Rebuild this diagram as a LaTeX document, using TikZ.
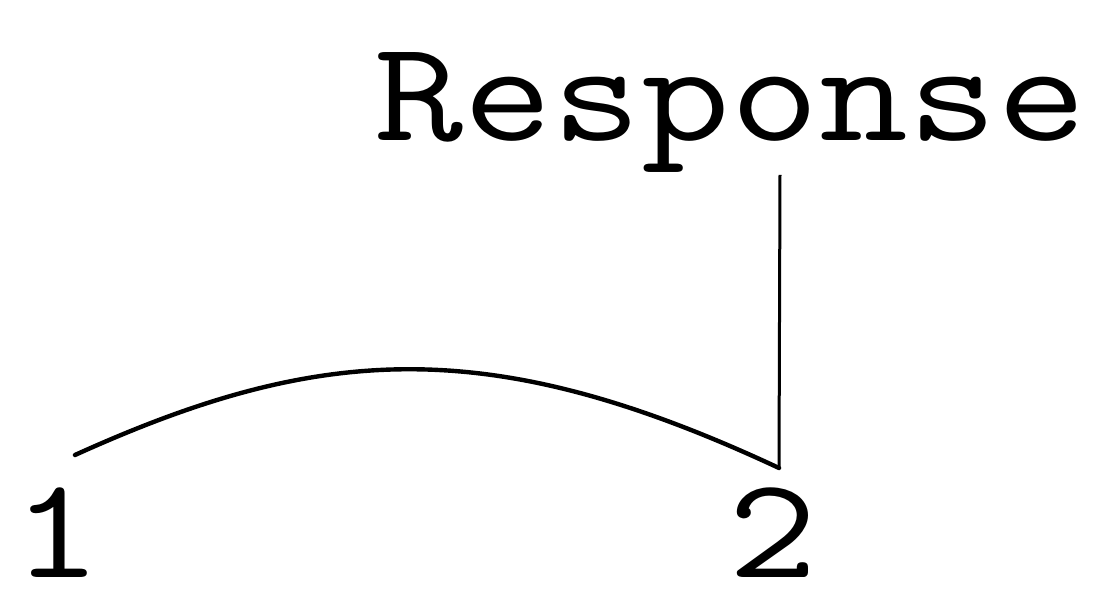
\documentclass[tikz,border=0pt]{standalone}
\usepackage{fontspec}
\newcommand{\wide}[1]{\scalebox{1.2}[1]{#1}}
\begin{document}
\begin{tikzpicture}[x=0.5pt,y=0.5pt,
  lbl/.style={inner sep=0pt,anchor=base west,font=\ttfamily\fontsize{72}{80}\selectfont},
  conn/.style={line width=2.2pt,line cap=round}]
\useasboundingbox (0,0) rectangle (1100,589);
\node[lbl] (resp) at (374,448) {\wide{Response}};
\node[lbl] (one) at (12,11) {\wide{1}};
\node[lbl] (two) at (728,11) {\wide{2}};
\coordinate (top) at (780,414);
\coordinate (p2) at (779,121);
\coordinate (p1) at (75,134);
\draw[line width=1.5pt] (top) -- (p2);
\draw[conn] (p1) .. controls (320,245) and (490,256) .. (p2);
\end{tikzpicture}
\end{document}
